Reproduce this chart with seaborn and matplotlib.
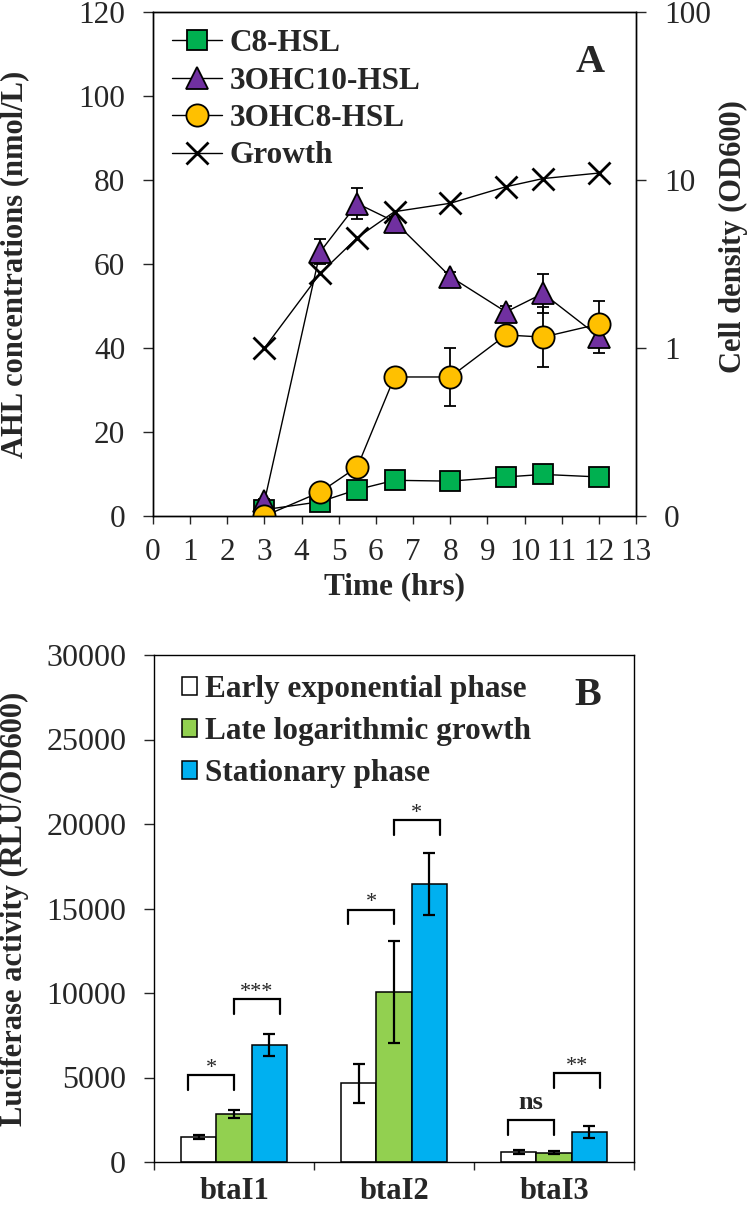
import numpy as np
import pandas as pd
import matplotlib
matplotlib.use("Agg")
import matplotlib.pyplot as plt
from matplotlib.ticker import FixedLocator, FuncFormatter, NullLocator
from matplotlib.patches import Patch
from matplotlib.container import BarContainer
import seaborn as sns

# Plain white style, Times-like serif font as in the original figure
sns.set_style("ticks")
plt.rcParams['font.family'] = ['Liberation Serif', 'DejaVu Serif']
plt.rcParams['axes.linewidth'] = 1.0
plt.rcParams['axes.edgecolor'] = 'black'

# ---------------- Panel A data (AHL time course) ----------------
times = [3, 4.5, 5.5, 6.5, 8, 9.5, 10.5, 12]
c8_hsl = [1.5, 3.4, 6.3, 8.5, 8.3, 9.3, 9.9, 9.3]
ohc10_hsl = [3.5, 62.9, 74.4, 70.1, 57.0, 48.6, 53.0, 42.7]
ohc10_err = [0.5, 3.0, 3.7, 1.0, 1.0, 1.5, 4.6, 4.0]
ohc8_hsl = [0.0, 5.7, 11.7, 33.1, 33.1, 43.1, 42.6, 45.7]
ohc8_err = [0.3, 1.0, 1.5, 1.0, 6.8, 1.5, 7.2, 5.5]
growth = [1.0, 2.78, 4.54, 6.48, 7.27, 9.12, 10.2, 11.0]

# ---------------- Panel B data (luciferase activity) ----------------
genes = ['btaI1', 'btaI2', 'btaI3']
phases = ['Early exponential phase', 'Late logarithmic growth', 'Stationary phase']
early = [1480, 4650, 600]
early_err = [100, 1150, 110]
late = [2860, 10050, 550]
late_err = [240, 3000, 80]
stationary = [6950, 16450, 1790]
stationary_err = [650, 1820, 360]

# significance brackets
sig_gene = [0, 0, 1, 1, 2, 2]
sig_first = [0, 1, 0, 1, 0, 1]   # bracket from phase i to phase i+1
sig_top = [5120, 9650, 14940, 20250, 2500, 5240]
sig_text = ['*', '***', '*', '*', 'ns', '**']

W, H = 750, 1211
fig = plt.figure(figsize=(W / 100, H / 100), dpi=100)
axA = fig.add_axes([153 / W, 1 - 516 / H, (636 - 153) / W, 504 / H])
axB = fig.add_axes([154 / W, 1 - 1162 / H, 480 / W, 507 / H])

FS = 22.5

# ================= Panel A =================
axA.errorbar(times, ohc10_hsl, yerr=ohc10_err, fmt='none', ecolor='black',
             elinewidth=1.3, capsize=4.5, capthick=1.3, zorder=1.5)
axA.errorbar(times, ohc8_hsl, yerr=ohc8_err, fmt='none', ecolor='black',
             elinewidth=1.3, capsize=4.5, capthick=1.3, zorder=1.5)

series = [
    (c8_hsl, 'C8-HSL', 's', '#00B050', 15),
    (ohc10_hsl, '3OHC10-HSL', '^', '#7030A0', 16),
    (ohc8_hsl, '3OHC8-HSL', 'o', '#FFC000', 16),
]
for vals, lab, mk, fc, ms in series:
    sns.lineplot(x=times, y=vals, ax=axA, color='black', lw=1.0, label=lab,
                 marker=mk, markersize=ms, markeredgewidth=1.3)
    ln = axA.lines[-1]
    ln.set_markerfacecolor(fc)
    ln.set_markeredgecolor('black')

axA.set_xlim(0, 13)
axA.set_ylim(0, 120)
axA.xaxis.set_major_locator(FixedLocator(range(0, 14)))
axA.yaxis.set_major_locator(FixedLocator(range(0, 121, 20)))
axA.tick_params(axis='x', direction='out', length=6, width=1, labelsize=FS, pad=10)
axA.tick_params(axis='y', direction='out', length=7, width=1, labelsize=FS, pad=13)
axA.set_xlabel('Time (hrs)', fontsize=FS, fontweight='bold')
axA.xaxis.set_label_coords(0.5, -0.112)
axA.set_ylabel('AHL concentrations (nmol/L)', fontsize=22, fontweight='bold')
axA.yaxis.set_label_coords(-0.257, 0.5)

ax2 = axA.twinx()
sns.lineplot(x=times, y=growth, ax=ax2, color='black', lw=1.0, label='Growth',
             marker='x', markersize=16, markeredgewidth=2.0)
ax2.lines[-1].set_markeredgecolor('black')
ax2.set_yscale('log')
ax2.set_ylim(0.1, 100)
ax2.yaxis.set_major_locator(FixedLocator([0.1, 1, 10, 100]))
ax2.yaxis.set_minor_locator(NullLocator())
ax2.yaxis.set_major_formatter(FuncFormatter(lambda v, p: '0' if v < 0.5 else f'{v:.0f}'))
ax2.tick_params(axis='y', direction='out', length=7, width=1, labelsize=FS, pad=13)
ax2.set_ylabel('Cell density (OD600)', fontsize=22, fontweight='bold')
ax2.yaxis.set_label_coords(1.172, 0.554)

if axA.get_legend():
    axA.get_legend().remove()
h1, l1 = axA.get_legend_handles_labels()
h2, l2 = ax2.get_legend_handles_labels()
ax2.legend(h1 + h2, l1 + l2, loc='upper left', bbox_to_anchor=(0.039, 0.966),
           borderaxespad=0, borderpad=0, frameon=False, handlelength=1.6,
           handletextpad=0.26, labelspacing=0.27,
           prop={'weight': 'bold', 'size': FS})
ax2.text(0.905, 0.90, 'A', transform=ax2.transAxes, fontsize=29,
         fontweight='bold', ha='center', va='center')

# ================= Panel B =================
df = pd.DataFrame({
    'gene': genes * 3,
    'phase': [phases[0]] * 3 + [phases[1]] * 3 + [phases[2]] * 3,
    'value': early + late + stationary,
})
bar_colors = ['white', '#92D050', '#00B0F0']
sns.barplot(data=df, x='gene', y='value', hue='phase', order=genes,
            hue_order=phases, palette=bar_colors, saturation=1, width=0.66,
            errorbar=None, edgecolor='black', linewidth=1.1, ax=axB, legend=False)

errs = [early_err, late_err, stationary_err]
vals_all = [early, late, stationary]
bar_conts = [c for c in axB.containers if isinstance(c, BarContainer)]
centers = []
bar_w = bar_conts[0].patches[0].get_width()
for k, cont in enumerate(bar_conts):
    xs = [p.get_x() + p.get_width() / 2 for p in cont.patches]
    centers.append(xs)
    axB.errorbar(xs, vals_all[k], yerr=errs[k], fmt='none', ecolor='black',
                 elinewidth=1.6, capsize=4.5, capthick=1.6, zorder=3)

# significance brackets and labels
leg_drop = 880
for g, i, top, txt in zip(sig_gene, sig_first, sig_top, sig_text):
    if i == 0:
        x0 = centers[0][g] - 0.3 * bar_w
        x1 = centers[1][g]
    else:
        x0 = centers[1][g]
        x1 = centers[2][g] + 0.3 * bar_w
    axB.plot([x0, x0, x1, x1], [top - leg_drop, top, top, top - leg_drop],
             color='black', lw=1.6, solid_joinstyle='miter')
    if txt == 'ns':
        axB.annotate(txt, xy=((x0 + x1) / 2, top), xytext=(0, 8),
                     textcoords='offset points', ha='center', va='baseline',
                     fontsize=19, fontweight='bold')
    else:
        axB.annotate(txt, xy=((x0 + x1) / 2, top), xytext=(0, 1.5),
                     textcoords='offset points', ha='center', va='baseline',
                     fontsize=16)

axB.set_xlim(-0.5, 2.5)
axB.set_ylim(0, 30000)
axB.yaxis.set_major_locator(FixedLocator(range(0, 30001, 5000)))
axB.set_xticks([0, 1, 2])
axB.set_xticklabels(genes, fontweight='bold', fontsize=22)
axB.xaxis.set_minor_locator(FixedLocator([-0.5, 0.5, 1.5, 2.5]))
axB.tick_params(axis='x', which='major', length=0, pad=11)
axB.tick_params(axis='x', which='minor', direction='out', length=6, width=1)
axB.tick_params(axis='y', direction='out', length=7, width=1, labelsize=23, pad=13)
axB.set_xlabel('')
axB.set_ylabel('Luciferase activity (RLU/OD600)', fontsize=22, fontweight='bold')
axB.yaxis.set_label_coords(-0.26, 0.5)

leg_handles = [Patch(facecolor=c, edgecolor='black', linewidth=1.1) for c in bar_colors]
axB.legend(leg_handles, phases, loc='upper left', bbox_to_anchor=(0.058, 0.96),
           borderaxespad=0, borderpad=0, frameon=False, handlelength=0.5,
           handleheight=0.5, handletextpad=0.24, labelspacing=0.41,
           prop={'weight': 'bold', 'size': FS})
axB.text(0.904, 0.921, 'B', transform=axB.transAxes, fontsize=29,
         fontweight='bold', ha='center', va='center')

for ax in (axA, ax2, axB):
    for sp in ax.spines.values():
        sp.set_visible(True)
        sp.set_color('black')
        sp.set_linewidth(1.0)

fig.savefig('out.png', dpi=100)
